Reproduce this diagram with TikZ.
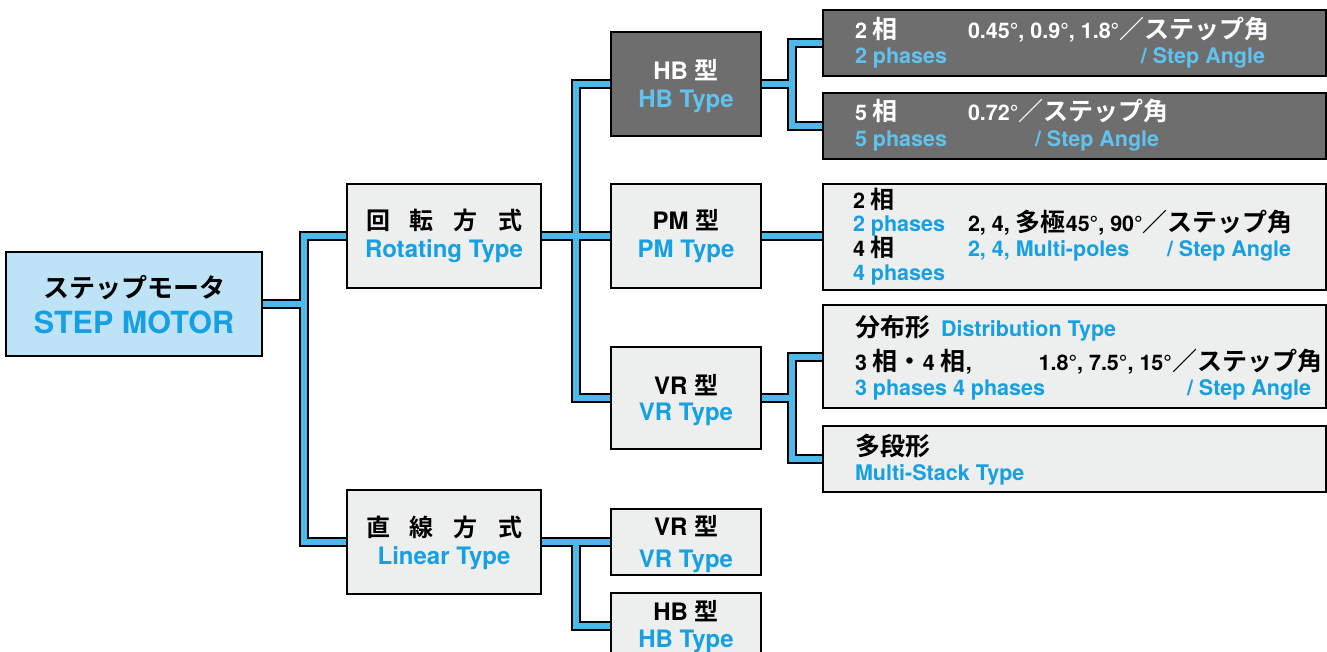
\documentclass[tikz,border=0pt]{standalone}
\usepackage{fontspec}
\setmainfont{TeX Gyre Heros}
\newfontfamily\jp{Noto Sans CJK JP}[UprightFont={* Bold},BoldFont={* Bold}]
\newcommand\J[1]{{\jp #1}}
\newcommand\JR[1]{{\jp\fontsize{25}{29}\selectfont #1}}
\newcommand\JS[1]{{\jp\fontsize{24}{28}\selectfont #1}}
\usetikzlibrary{backgrounds}
\definecolor{tblue}{RGB}{22,160,226}
\definecolor{dblue}{RGB}{98,194,238}
\definecolor{cblue}{RGB}{76,185,234}
\definecolor{lightfill}{RGB}{237,238,238}
\definecolor{darkfill}{RGB}{110,110,110}
\definecolor{smfill}{RGB}{190,227,247}
\begin{document}
\begin{tikzpicture}[x=1pt,y=-1pt,
  every node/.style={inner sep=0pt,outer sep=0pt},
  box/.style={draw=black,line width=2.5pt,fill=lightfill},
  dbox/.style={box,fill=darkfill},
  mid/.style={font=\bfseries\fontsize{24}{28}\selectfont,anchor=base},
  rt/.style={font=\bfseries\fontsize{21.5}{25}\selectfont,anchor=base west},
  rte/.style={rt,anchor=base east},
  cout/.style={line width=10pt,black},
  cin/.style={line width=6pt,cblue}]
\useasboundingbox (0,0) rectangle (1327,652);
% boxes
\node[box,fill=smfill,minimum width=256pt,minimum height=104pt] (sm) at (134,304) {};
\node[box,minimum width=194pt,minimum height=104pt] (rot) at (444,236) {};
\node[box,minimum width=194pt,minimum height=104pt] (lin) at (444,542) {};
\node[dbox,minimum width=150pt,minimum height=104pt] (hb) at (686,84) {};
\node[box,minimum width=150pt,minimum height=104pt] (pm) at (686,236) {};
\node[box,minimum width=150pt,minimum height=102pt] (vr) at (686,398) {};
\node[box,minimum width=150pt,minimum height=66pt] (lvr) at (686,542) {};
\node[box,minimum width=150pt,minimum height=66pt] (lhb) at (686,626) {};
\node[dbox,minimum width=503pt,minimum height=66pt] (r1) at (1074.5,43) {};
\node[dbox,minimum width=503pt,minimum height=66pt] (r2) at (1074.5,126) {};
\node[box,minimum width=503pt,minimum height=106pt] (r3) at (1074.5,237) {};
\node[box,minimum width=503pt,minimum height=103pt] (r4) at (1074.5,356.5) {};
\node[box,minimum width=503pt,minimum height=66pt] (r5) at (1074.5,459) {};
% junctions
\coordinate (j1) at (304,304);
\coordinate (j2) at (576,236);
\coordinate (j3) at (792,84);
\coordinate (j4) at (792,398);
\coordinate (j5) at (576,542);
\newcommand\conns[1]{%
  \draw[#1] (sm.east) -- (j1);
  \draw[#1] (rot.west) -| (j1) |- (lin.west);
  \draw[#1] (rot.east) -- (pm.west);
  \draw[#1] (hb.west) -| (j2) |- (vr.west);
  \draw[#1] (hb.east) -- (j3);
  \draw[#1] (r1.west) -| (j3) |- (r2.west);
  \draw[#1] (pm.east) -- (pm.east -| r3.west);
  \draw[#1] (vr.east) -- (j4);
  \draw[#1] (r4.west) -| (j4) |- (r5.west);
  \draw[#1] (lin.east) -- (lvr.west);
  \draw[#1] (j5) |- (lhb.west);}
\begin{pgfonlayer}{background}
\conns{cout}
\conns{cin}
\end{pgfonlayer}
% texts
\node[font=\jp\fontsize{26}{30}\selectfont,anchor=base] (smj) at (134,297) {ステップモータ};
\node[font=\bfseries\fontsize{30.5}{34}\selectfont,text=tblue,anchor=base] (sme) at (134,333) {STEP MOTOR};
\node[mid] (rotj) at (444,230) {\J{回\hspace{20pt}転\hspace{20pt}方\hspace{20pt}式}};
\node[mid,text=tblue] (rote) at (444,258) {Rotating Type};
\node[mid] (linj) at (444,536) {\J{直\hspace{20pt}線\hspace{20pt}方\hspace{20pt}式}};
\node[mid,text=tblue] (line) at (444,564) {Linear Type};
\node[mid,text=white] (hbj) at (686,80) {HB \J{型}};
\node[mid,text=dblue] (hbe) at (686,108) {HB Type};
\node[mid] (pmj) at (686,230) {PM \J{型}};
\node[mid,text=tblue] (pme) at (686,258) {PM Type};
\node[mid] (vrj) at (686,394) {VR \J{型}};
\node[mid,text=tblue] (vre) at (686,420) {VR Type};
\node[mid] (lvrj) at (686,535) {VR \J{型}};
\node[mid,text=tblue] (lvre) at (686,567) {VR Type};
\node[mid] (lhbj) at (686,620) {HB \J{型}};
\node[mid,text=tblue] (lhbe) at (686,647) {HB Type};
% R1
\node[rt,text=white] (r1a) at (855,39) {2 \JR{相}};
\node[rt,text=white] (r1b) at (968,39) {0.45°, 0.9°, 1.8°\JR{／ステップ角}};
\node[rt,text=dblue] (r1c) at (855,64) {2 phases};
\node[rte,text=dblue] (r1d) at (1265,64) {/ Step Angle};
% R2
\node[rt,text=white] (r2a) at (855,121) {5 \JR{相}};
\node[rt,text=white] (r2b) at (968,121) {0.72°\JR{／ステップ角}};
\node[rt,text=dblue] (r2c) at (855,147) {5 phases};
\node[rt,text=dblue] (r2d) at (1035,147) {/ Step Angle};
% R3
\node[rt] (r3a) at (853,208.5) {2 \JS{相}};
\node[rt,text=tblue] (r3b) at (853,231.5) {2 phases};
\node[rt] (r3c) at (853,257) {4 \JS{相}};
\node[rt,text=tblue] (r3d) at (853,280) {4 phases};
\node[rt] (r3e) at (968,232) {2, 4, \JR{多極}45°, 90°\JR{／ステップ角}};
\node[rt,text=tblue] (r3f) at (968,257) {2, 4, Multi-poles};
\node[rt,text=tblue] (r3g) at (1167,257) {/ Step Angle};
% R4
\node[rt] (r4a) at (855,336) {\JR{分布形}};
\node[rt,text=tblue] (r4b) at (941,336) {Distribution Type};
\node[rt] (r4c) at (855,370) {3 \JR{相・}4 \JR{相},};
\node[rte] (r4d) at (1322,370) {1.8°, 7.5°, 15°\JR{／ステップ角}};
\node[rt,text=tblue] (r4e) at (855,395) {3 phases 4 phases};
\node[rt,text=tblue] (r4f) at (1187,395) {/ Step Angle};
% R5
\node[rt] (r5a) at (855,455) {\JR{多段形}};
\node[rt,text=tblue] (r5b) at (855,480) {Multi-Stack Type};
\end{tikzpicture}
\end{document}
